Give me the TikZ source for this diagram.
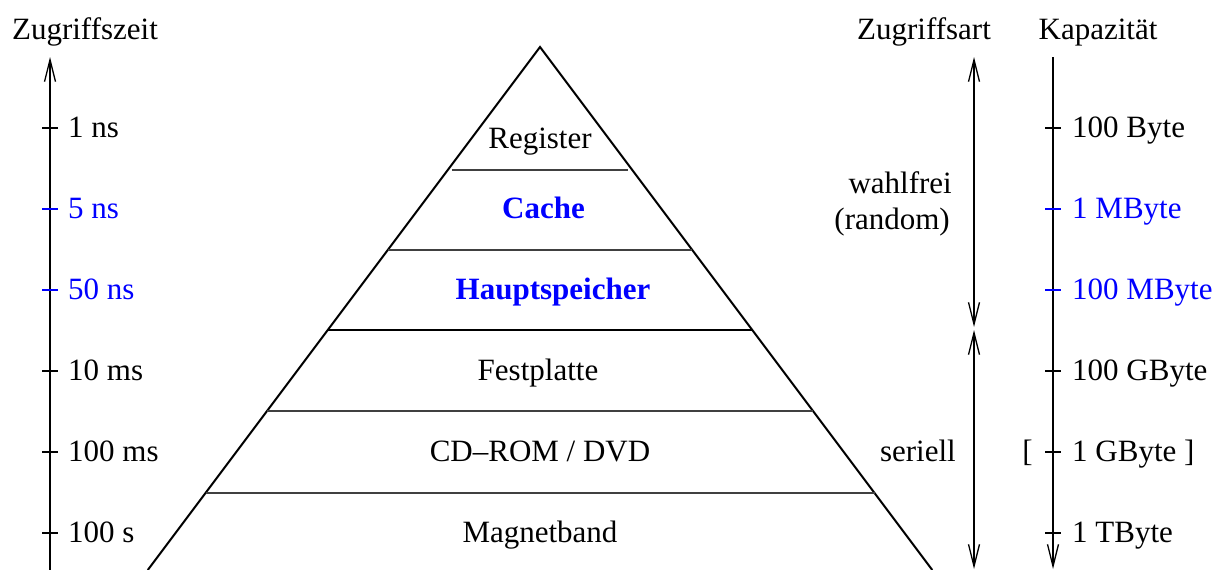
\documentclass[tikz,border=0pt]{standalone}
\usepackage{fontspec}
\setmainfont{Liberation Serif}
\usetikzlibrary{arrows.meta}
\begin{document}
\begin{tikzpicture}[x=1pt,y=-1pt,
  lbl/.style={inner sep=0pt, font=\fontsize{31}{36}\selectfont},
  hi/.style={lbl, text=blue},
  bhi/.style={lbl, text=blue, font=\fontsize{31}{36}\selectfont\bfseries},
  axis/.style={line width=1.3pt},
  tip/.style={-{Straight Barb[length=22pt,width=11pt,line width=1.3pt]}},
  dtip/.style={{Straight Barb[length=22pt,width=11pt,line width=1.3pt]}-{Straight Barb[length=22pt,width=11pt,line width=1.3pt]}},
  tick/.style={line width=1.3pt},
  level/.style={line width=1.3pt, draw=black!75},
  side/.style={line width=2pt}]
\useasboundingbox (0,0) rectangle (1224,570);
\clip (0,0) rectangle (1224,570);

% headers
\node[lbl, anchor=base] (hzeit) at (85,39) {Zugriffszeit};
\node[lbl, anchor=base] (hart) at (924,39) {Zugriffsart};
\node[lbl, anchor=base] (hkap) at (1098,39) {Kapazit\"at};

% pyramid
\coordinate (apex) at (540,47);
\coordinate (bl) at (147.75,570);
\coordinate (br) at (932.25,570);
\draw[side] (bl) -- (apex) -- (br);
\coordinate (la) at (452,170);
\coordinate (ra) at (628,170);
\draw[level] (la) -- (ra);
\foreach \y/\n in {250/b,411/d,493/e}{
  \pgfmathsetmacro{\h}{0.75*(\y-47)}
  \coordinate (l\n) at ({540-\h},\y);
  \coordinate (r\n) at ({540+\h},\y);
  \draw[level] (l\n) -- (r\n);
}
\coordinate (lc) at (328,330);
\coordinate (rc) at (752,330);
\draw[side] (lc) -- (rc);

\node[lbl, anchor=base] (reg) at (540,148) {Register};
\node[bhi, anchor=base] (cache) at (543.5,218) {Cache};
\node[bhi, anchor=base] (haupt) at (553,299) {Hauptspeicher};
\node[lbl, anchor=base] (fest) at (538,380) {Festplatte};
\node[lbl, anchor=base] (cd) at (540,461) {CD--ROM / DVD};
\node[lbl, anchor=base] (band) at (540,542) {Magnetband};

% left axis: access time
\coordinate (zbot) at (50,570);
\coordinate (ztop) at (50,57);
\draw[axis, tip] (zbot) -- (ztop);
\foreach \y/\t/\c in {128/1 ns/black,209/5 ns/blue,290/50 ns/blue,371/10 ms/black,452/100 ms/black,533/100 s/black}{
  \draw[tick, draw=\c] (42,\y) -- (58,\y);
  \node[lbl, text=\c, anchor=base west] at (68,\y+9) {\t};
}

% access type axis
\coordinate (atop) at (974,57);
\coordinate (amid1) at (974,327);
\coordinate (amid2) at (974,330);
\coordinate (abot) at (974,569);
\draw[axis, dtip] (amid1) -- (atop);
\draw[axis, dtip] (amid2) -- (abot);
\node[lbl, anchor=base east] (wahl) at (952,193) {wahlfrei};
\node[lbl, anchor=base east] (rand) at (950,229) {(random)};
\node[lbl, anchor=base east] (ser) at (956,461) {seriell};

% capacity axis
\coordinate (ktop) at (1053,57);
\coordinate (kbot) at (1053,569);
\draw[axis, tip] (ktop) -- (kbot);
\foreach \y/\t/\c in {128/100 Byte/black,209/1 MByte/blue,290/100 MByte/blue,371/100 GByte/black,452/1 GByte ]/black,533/1 TByte/black}{
  \draw[tick, draw=\c] (1045,\y) -- (1061,\y);
  \node[lbl, text=\c, anchor=base west] at (1072,\y+9) {\t};
}
\node[lbl, anchor=base east] (brk) at (1033,461) {[};
\end{tikzpicture}
\end{document}
